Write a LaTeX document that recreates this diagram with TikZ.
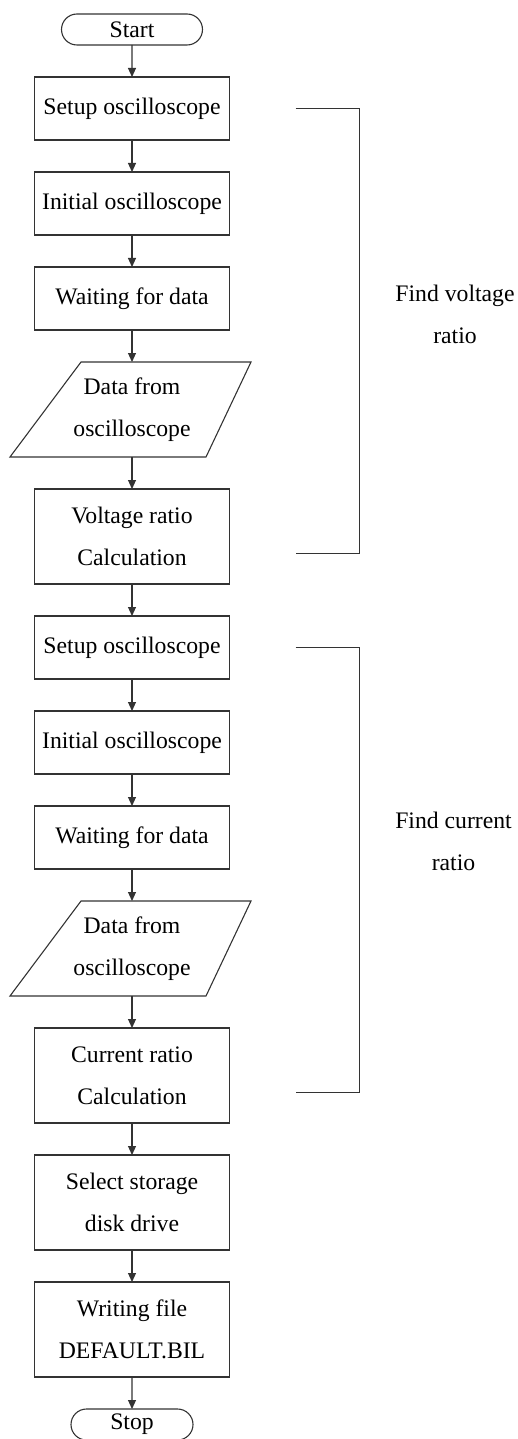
\documentclass[tikz,border=0pt]{standalone}
\usepackage{fontspec}
\setmainfont{Liberation Serif}
\usetikzlibrary{arrows.meta,positioning,shapes.misc}

\tikzset{
  line/.style={draw=black!80, line width=0.55pt},
  process/.style={line, rectangle, minimum width=97.5pt, minimum height=31.5pt, align=center, inner sep=2pt, outer sep=0pt},
  tall/.style={minimum height=47.5pt},
  terminal/.style={line, rounded rectangle, minimum height=15.5pt, inner sep=1pt, outer sep=0pt},
  iotext/.style={rectangle, minimum width=97.5pt, minimum height=47.5pt, align=center, inner sep=2pt, outer sep=0pt},
  note/.style={align=center},
}

\begin{document}
\begin{tikzpicture}[>={Triangle[length=4.5pt,width=4pt]},node distance=16pt,font=\fontsize{11.85}{21}\selectfont]

    \useasboundingbox (0,0) rectangle (259pt,-719.5pt);

    % voltage part
    \node[terminal,minimum width=72.5pt] (start) at (66pt,-14.75pt) {Start};
    \node[process] (setv) [below=of start] {Setup oscilloscope};
    \node[process] (initv) [below=of setv] {Initial oscilloscope};
    \node[process] (waitv) [below=of initv] {Waiting for data};
    \node[iotext] (datav) [below=of waitv] {Data from\\oscilloscope};
    \node[process,tall] (calcv) [below=of datav] {Voltage ratio\\Calculation};

    % current part
    \node[process] (setc) [below=of calcv] {Setup oscilloscope};
    \node[process] (initc) [below=of setc] {Initial oscilloscope};
    \node[process] (waitc) [below=of initc] {Waiting for data};
    \node[iotext] (datac) [below=of waitc] {Data from\\oscilloscope};
    \node[process,tall] (calcc) [below=of datac] {Current ratio\\Calculation};

    % storage
    \node[process,tall] (disk) [below=of calcc] {Select storage\\disk drive};
    \node[process,tall] (write) [below=of disk] {Writing file\\DEFAULT.BIL};
    \node[terminal,minimum width=63pt] (stop) [below=of write] {Stop};

    \foreach \io in {datav, datac} {
        \draw[line] ([xshift=-61pt]\io.south) -- ([xshift=-25.5pt]\io.north)
                 -- ([xshift=59.5pt]\io.north) -- ([xshift=37pt]\io.south) -- cycle;
    }

    \foreach \from/\to in {start/setv, setv/initv, initv/waitv, waitv/datav, datav/calcv,
                           calcv/setc, setc/initc, initc/waitc, waitc/datac, datac/calcc,
                           calcc/disk, disk/write, write/stop} {
        \draw[line,->] (\from) -- (\to);
    }

    % brackets
    \coordinate (vtop) at ([xshift=33pt]setv.east);
    \coordinate (vbot) at ([xshift=33pt,yshift=-8.5pt]calcv.east);
    \coordinate (ctop) at ([xshift=33pt]setc.east);
    \coordinate (cbot) at ([xshift=33pt,yshift=-8.5pt]calcc.east);
    \draw[line] (vtop) -| ([xshift=32pt]vbot) -- (vbot);
    \draw[line] (ctop) -| ([xshift=32pt]cbot) -- (cbot);

    \node[note] (findv) at (227.5pt,-157.25pt) {Find voltage\\ratio};
    \node[note] (findc) at (226.75pt,-420.75pt) {Find current\\ratio};

\end{tikzpicture}
\end{document}
